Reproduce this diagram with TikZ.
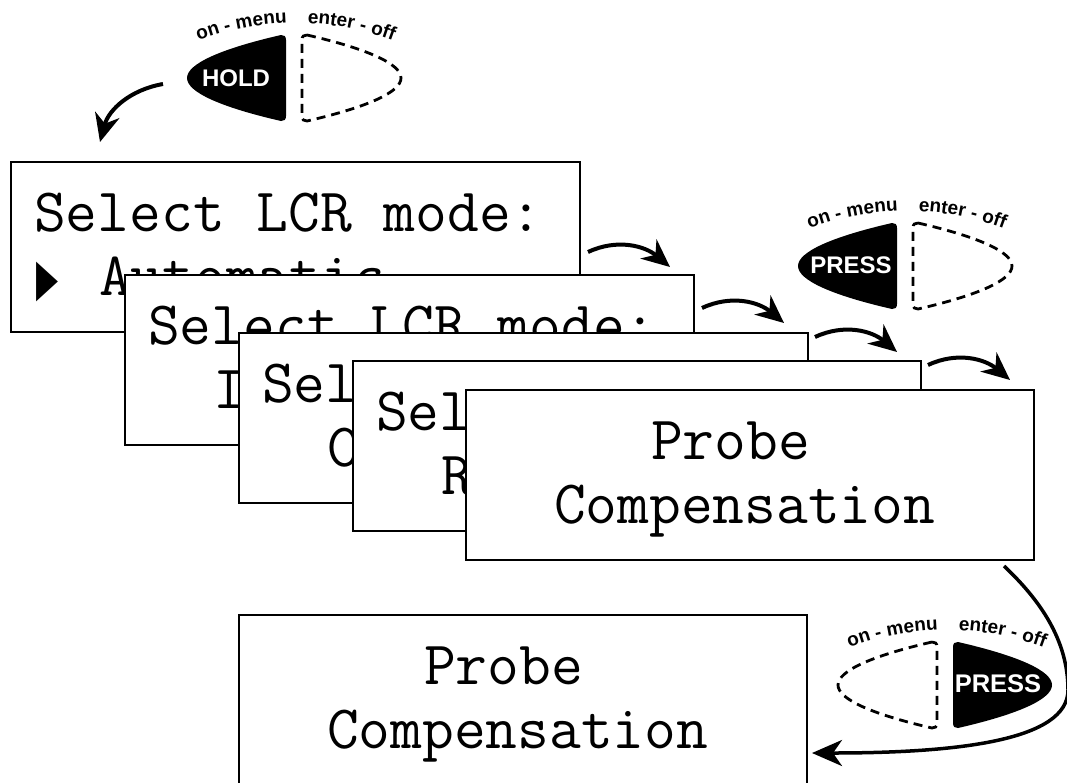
\documentclass[tikz,border=0pt]{standalone}
\usepackage{graphicx}
\usepackage{fontspec}
\newfontfamily\labelfont{Liberation Sans}
\newfontfamily\symfont{DejaVu Sans}
\usetikzlibrary{arrows.meta,decorations.text}

\newcommand\leftbtn{(281,-35) .. controls (220,-49) and (187,-64) .. (187,-78) .. controls (187,-92) and (220,-107) .. (281,-121) .. controls (284,-121) and (286,-120) .. (286,-116) -- (286,-40) .. controls (286,-36) and (284,-35) .. (281,-35) -- cycle}
\newcommand\rightbtn{(307,-35) .. controls (368,-49) and (401,-64) .. (401,-78) .. controls (401,-92) and (368,-107) .. (307,-121) .. controls (304,-121) and (302,-120) .. (302,-116) -- (302,-40) .. controls (302,-36) and (304,-35) .. (307,-35) -- cycle}
\newcommand\btnlabels{%
  \path[decorate, decoration={text along path, text align=center,
     text={|\labelfont\bfseries\fontsize{19}{19}\selectfont|on - menu}}]
     (192.6,-43.1) arc[start angle=112, end angle=90.6, radius=276];
  \path[decorate, decoration={text along path, text align=center,
     text={|\labelfont\bfseries\fontsize{19}{19}\selectfont|enter - off}}]
     (298.4,-23.0) arc[start angle=89.5, end angle=67.5, radius=276];
}

\tikzset{
  lcd/.style={draw=black, line width=2.2pt, fill=white, anchor=north west,
     inner sep=0pt, minimum height=170pt},
  lcdtext/.style={anchor=base west, inner sep=0pt,
     font=\ttfamily\fontsize{61.7}{70}\selectfont},
  flow/.style={line width=4pt, -{Stealth[length=28pt,width=25pt,inset=9pt]}},
  bigflow/.style={line width=3.5pt, -{Stealth[length=30pt,width=26pt,inset=9pt]}},
  btnon/.style={fill=black},
  btnoff/.style={draw=black, line width=2.8pt, dash pattern=on 9pt off 6pt},
  btntext/.style={text=white, inner sep=0pt,
     font=\labelfont\bfseries\fontsize{24}{24}\selectfont},
}

\begin{document}
\begin{tikzpicture}[x=1pt,y=1pt]
\useasboundingbox (0,0) rectangle (1067,-782);

% ---- top button pair (HOLD)
\fill[btnon] \leftbtn;
\draw[btnoff] \rightbtn;
\node[btntext] (hold) at (236,-78.5) {HOLD};
\btnlabels

% ---- second button pair (PRESS on-menu)
\begin{scope}[shift={(611,-188)}]
\fill[btnon] \leftbtn;
\draw[btnoff] \rightbtn;
\node[btntext] (press1) at (240,-77.5) {PRESS};
\btnlabels
\end{scope}

% ---- bottom button pair (PRESS enter-off)
\begin{scope}[shift={(651,-607)}]
\draw[btnoff] \leftbtn;
\fill[btnon] \rightbtn;
\node[btntext, font=\labelfont\bfseries\fontsize{25.5}{25.5}\selectfont] (press2) at (347,-76.5) {PRESS};
\btnlabels
\end{scope}

% ---- LCD screens
\node[lcd, minimum width=569pt] (b1) at (10,-161) {};
\node[lcdtext] (t1a) at (34,-231) {Select LCR mode:};
\node[anchor=base west, inner sep=0pt, font=\symfont\fontsize{52}{52}\selectfont] (cur) at (36,-295) {\scalebox{0.55}[1]{▶}};
\node[lcdtext] (t1b) at (98.8,-295) {Automatic};

\node[lcd, minimum width=569pt] (b2) at (124,-274) {};
\node[lcdtext] (t2a) at (148,-344) {Select LCR mode:};
\node[lcdtext] (t2b) at (212.8,-408) {I};

\node[lcd, minimum width=569pt] (b3) at (238,-332) {};
\node[lcdtext] (t3a) at (262,-402) {Sel};
\node[lcdtext] (t3b) at (326.8,-466) {C};

\node[lcd, minimum width=568pt] (b4) at (352,-360) {};
\node[lcdtext] (t4a) at (376,-430) {Sel};
\node[lcdtext] (t4b) at (440.8,-494) {R};

\node[lcd, minimum width=568pt] (b5) at (465,-389) {};
\node[lcdtext] (t5a) at (651,-459) {Probe};
\node[lcdtext] (t5b) at (553.8,-523) {Compensation};

\node[lcd, minimum width=568pt, minimum height=220pt] (b6) at (238,-614) {};
\node[lcdtext] (t6a) at (424,-684) {Probe};
\node[lcdtext] (t6b) at (326.8,-748) {Compensation};

% ---- arrows
\coordinate (a0s) at (163,-84);   \coordinate (a0e) at (100,-142);
\coordinate (a1s) at (588,-252);  \coordinate (a1e) at (670,-267);
\coordinate (a2s) at (702,-308);  \coordinate (a2e) at (784,-323);
\coordinate (a3s) at (815,-337);  \coordinate (a3e) at (897,-352);
\coordinate (a4s) at (928,-365);  \coordinate (a4e) at (1010,-380);
\coordinate (a5s) at (1004,-566); \coordinate (a5e) at (812,-753);

\draw[flow] (a0s) to[out=190,in=75] (a0e);
\draw[flow] (a1s) to[out=25,in=140] (a1e);
\draw[flow] (a2s) to[out=25,in=140] (a2e);
\draw[flow] (a3s) to[out=25,in=140] (a3e);
\draw[flow] (a4s) to[out=25,in=140] (a4e);
\draw[bigflow] (a5s) .. controls (1040,-600) and (1068,-640) .. (1068,-690)
   .. controls (1068,-740) and (960,-753) .. (a5e);
\end{tikzpicture}
\end{document}
